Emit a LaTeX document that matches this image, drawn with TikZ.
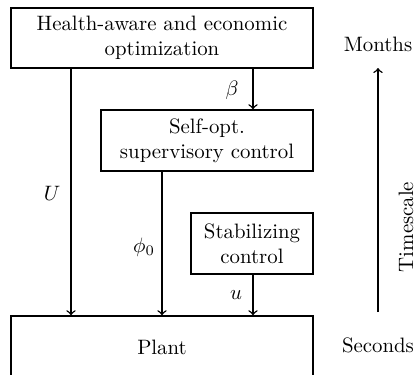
\documentclass[tikz,border=0pt]{standalone}
\usetikzlibrary{calc}
\begin{document}
\begin{tikzpicture}[x=0.48pt,y=-0.48pt,
  blk/.style={draw,line width=0.7pt,rectangle,align=center,inner sep=0pt,font=\normalsize},
  conn/.style={->,line width=0.7pt},
  lbl/.style={inner sep=0pt}]
\useasboundingbox (0,0) rectangle (417,374);
% blocks
\node[blk,minimum width=302*0.48pt,minimum height=60*0.48pt] (top) at (162,38)
  {Health-aware and economic\\optimization};
\node[blk,minimum width=212*0.48pt,minimum height=61*0.48pt] (sopt) at (207,140.5)
  {Self-opt.\\supervisory control};
\node[blk,minimum width=122*0.48pt,minimum height=61*0.48pt] (stab) at (252,243.5)
  {Stabilizing\\control};
\node[blk,minimum width=302*0.48pt,minimum height=62*0.48pt] (plant) at (162,347)
  {Plant};
% columns of the signal lines
\coordinate (cU) at (71,0);
\coordinate (cP) at (162,0);
\coordinate (cB) at (253,0);
% signals
\draw[conn] (top.south -| cU) -- (plant.north -| cU);
\draw[conn] (top.south -| cB) -- (sopt.north -| cB);
\draw[conn] (sopt.south -| cP) -- (plant.north -| cP);
\draw[conn] (stab.south -| cB) -- (plant.north -| cB);
\node[lbl] (lU) at (52,193) {$U$};
\node[lbl] (lb) at (232,90) {$\beta$};
\node[lbl] (lp) at (144,247) {$\phi_0$};
\node[lbl] (lu) at (236,295) {$u$};
% timescale
\node[lbl] (months) at (378,44) {Months};
\node[lbl] (seconds) at (378,345) {Seconds};
\coordinate (tsA) at (378,312);
\coordinate (tsB) at (378,68);
\draw[conn] (tsA) -- (tsB);
\node[lbl,rotate=90] (ts) at (406,227) {Timescale};
\end{tikzpicture}
\end{document}
